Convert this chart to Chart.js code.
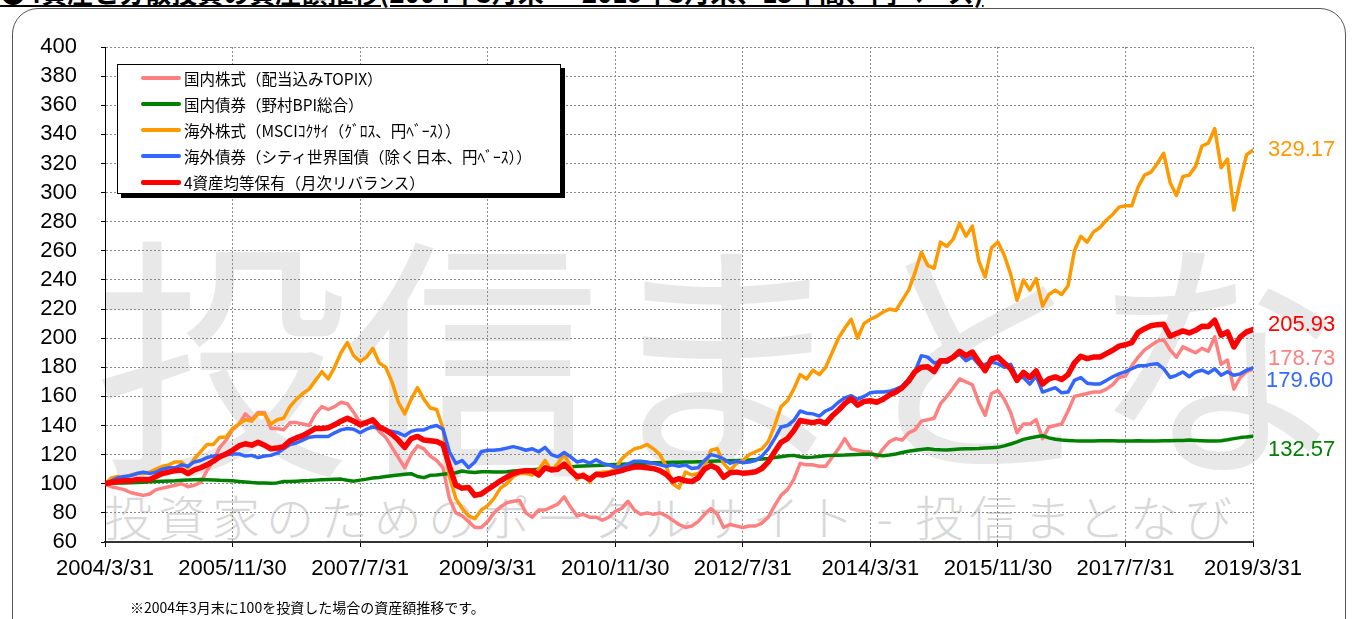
<!DOCTYPE html>
<html><head><meta charset="utf-8">
<script src="https://cdn.jsdelivr.net/npm/chart.js@4.4.1/dist/chart.umd.min.js"></script>
<style>
html,body{margin:0;padding:0;background:#fff;width:1356px;height:619px;overflow:hidden;position:relative;font-family:"Noto Sans CJK JP",sans-serif;}
#frame{position:absolute;left:12px;top:8px;width:1332px;height:650px;border:1.5px solid #555;border-radius:26px;}
#title{position:absolute;left:0;top:-27px;font-size:26px;font-weight:bold;white-space:nowrap;text-decoration:underline;color:#000;}
#wm{position:absolute;left:94px;top:200px;font-size:255px;line-height:290px;color:#e8e8e8;white-space:nowrap;font-family:"Noto Sans CJK JP";letter-spacing:-4px;}
#wm2{position:absolute;left:104px;top:488px;font-size:48px;line-height:54px;color:#d8d8d8;white-space:nowrap;font-family:"Noto Sans CJK JP";font-weight:300;letter-spacing:6px;}
canvas{position:absolute;left:0;top:0;}
#legend{position:absolute;left:117px;top:64px;width:442px;height:128px;border:1px solid #000;background:#fff;box-shadow:4px 4px 0 #000;}
.row{position:absolute;left:0;height:26px;width:100%;}
.sw{position:absolute;left:23px;width:40px;border-radius:2px;}
.lt{position:absolute;left:66px;top:0;font-size:15.5px;line-height:26px;white-space:nowrap;color:#000;}
#note{position:absolute;left:130px;top:598px;font-size:14px;line-height:18px;white-space:nowrap;}
</style></head>
<body>
<div id="title">●4資産と分散投資の資産額推移(2004年3月末 ～ 2019年3月末、15年間、円ベース)</div>
<div id="frame"></div>
<div id="wm">投信まとなび</div>
<div id="wm2">投資家のためのポータルサイト - 投信まとなび</div>
<canvas id="c" width="1356" height="619"></canvas>
<div id="legend"></div>
<div id="note">※2004年3月末に100を投資した場合の資産額推移です。</div>
<script>
const xTickLabels = ['2004/3/31','2005/11/30','2007/7/31','2009/3/31','2010/11/30','2012/7/31','2014/3/31','2015/11/30','2017/7/31','2019/3/31'];
const seriesNames = ['国内株式（配当込みTOPIX）','国内債券（野村BPI総合）','海外株式（MSCIｺｸｻｲ（ｸﾞﾛｽ、円ﾍﾞｰｽ））','海外債券（シティ世界国債（除く日本、円ﾍﾞｰｽ））','4資産均等保有（月次リバランス）'];

const topix = [100,98,97,96,94,93,92,93,96,97,
98,99,100,98,99,101,109,116,125,130,
137,141,148,144,149,149,138,138,137,142,
142,141,140,148,153,151,153,156,155,149,
142,143,142,136,132,125,118,111,120,126,
124,119,116,111,90,80,78,74,70,70,
74,80,84,87,88,88.5,80,77,82,82,
84,86,91,84,78,79,77,77,75,77,
81,83,88,82,79,80,79,80,78,75,
72,70,71,74,79,83,79,70,72,71,
70,71,71,73,77,85,92,96,103,114,
113,113,112,112,118,124,131,124,123,122,
122,118,124,129,131,130,135,137,143,144,
145,155,160,166,172,170,168,156,147,162,
164,158,149,135,141,141,144,131,139,140,
141,150,160,161,162,163,163,165,168,173,
174,181,187,192,195,198,199,192,187,194,
192,190,193,191,201,182,185,165,173,177,
178.73];

const nbpi = [100,100.3,100.5,100.6,100.7,100.9,101.1,101.3,101.5,101.7,
101.9,102.1,102.4,102.6,102.8,103.0,102.8,102.6,102.4,102.3,
102.0,101.6,101.2,100.8,100.5,100.5,100.4,100.6,101.5,101.6,
101.8,102.0,102.2,102.5,102.7,102.9,103.1,103.2,102.4,101.8,
102.5,103.2,104.0,104.3,105.0,105.5,106.0,106.5,106.9,105.0,
104.2,105.8,106.0,106.6,107.0,107.6,108.8,108.0,107.8,108.3,
108.2,108.0,108.0,108.3,108.7,109.0,109.3,109.6,110.0,110.3,
110.6,111.0,111.3,111.6,112.0,112.2,112.4,112.6,112.8,113.0,
113.2,113.4,113.6,113.8,114.0,114.2,114.4,114.5,114.6,114.7,
114.8,114.9,115.0,115.1,115.2,115.4,115.6,115.7,115.8,115.9,
116.0,116.3,116.6,117.0,117.4,118.0,118.6,119.2,119.5,118.6,
118.0,118.3,118.8,119.2,119.5,119.6,119.7,119.9,120.1,120.3,
120.4,119.8,119.3,119.8,120.5,121.5,122.3,123.0,123.6,124.0,
123.6,123.3,123.2,123.5,123.8,124.0,124.0,124.2,124.5,124.8,
125.0,126.0,127.3,128.8,130.5,131.4,132.3,133.0,131.5,130.6,
130.0,129.8,129.5,129.3,129.3,129.4,129.5,129.6,129.5,129.4,
129.3,129.4,129.5,129.4,129.3,129.4,129.5,129.6,129.7,129.8,
130.0,129.8,129.6,129.4,129.3,129.6,130.2,131.0,131.7,132.2,
132.57];

const msci = [100,104,105,104,106,107,107,108,110,112,
113,115,115,111,117,122,127,127,132,132,
138,141,144,143,148,148,141,144,145,153,
158,162,165,171,177,172,180,190,197,188,
184,187,193,183,180,170,156,148,158,166,
158,152,151,138,105,90,83,78,76,82,
85,90,97,100,105,107,107,106,110,116,
109,114,120,112,103,107,101,107,108,108,
110,117,121,124,125,127,124,120,112,100,
97,108,106,107,112,123,124,114,109,114,
116,120,122,124,129,140,153,157,165,175,
172,178,175,180,190,200,207,213,200,210,
213,215,218,220,219,226,233,245,259,250,
248,266,263,268,279,270,277,253,242,262,
266,257,244,226,240,233,241,222,230,233,
230,236,260,270,266,273,276,281,285,290,
291,291,304,312,314,320,327,307,298,311,
312,318,332,334,344,317,323,288,308,326,
329.17];

const wgbi = [100,102,104,105,105.5,107,108,107,108,110,
111,111,113,112,115,116,118,119,119.5,120,
120.5,120.5,119,119.5,118,119,119.5,121,124,127,
128,130,132,132.5,132.5,132.5,135,137,138,137.5,
135,137.5,139,138,137,136,135,133,136,137,
137,139,140,137.5,122,114,116,111,115,122,
123,123,123.5,124.5,125.5,124.5,123,124,122,125,
120,118.5,121.5,118.5,115,116,114,116.5,114,113,
111.5,111.5,113.5,115.5,115.5,115,114,113,112,113,
112,113,110.5,111,116,120,119,117,114,115.5,
114.5,115,116,119,124,131,139,140,143.5,150,
148.5,148,146.5,150,152,156,159,160.5,158,160,
162.5,163,163,163.5,165,167,172,177,188,187,
183,184,183.5,186.5,189,184.5,187,182,182,183.5,
182.5,180,182,173,173,168.5,174,163,164.5,166,
162.5,163,171,173,169,168.5,168.5,171,173.5,175.5,
177,179,181,181,182,182.5,179,173,174.5,176.8,
173.5,176.8,178,176,179,174.5,177,174.5,175.5,178,
179.6];

const balanced = [100,101,101.5,102,102,103,103,103,105,107,
108,109,109.5,107,109.5,111,113,115.5,118.5,120.5,
123,126,127.5,126.5,128.5,126.5,124,124.5,125.5,129.5,
131.5,133,135.5,138,138,138.5,140.5,143,145,143,
140.5,142,144,139,137,134,130,125,131,132.5,
130,129.5,129,127,112,99,97,97.5,92,93,
96,99,102,104.5,107,108.5,109,109,106,111,
109.5,110,113.5,109,105,105.5,103,106.5,106,107,
108,109,110.5,111.5,111.5,111,110.5,109,106.5,102,
103.5,102,101.5,104,110,112.5,110.5,104.5,107.5,108,
107.3,107.6,108.2,110.5,115,122,128.5,131,136.5,143.5,
142.6,142,143,141.5,146.5,150.5,155,158.5,154,156.5,
157,156,158,161,163,166,170.5,177,180,180.4,
177,184.5,184.5,187,191,188,190.5,184,177.7,185.7,
187,183,179,171,176.5,173,177.5,168.5,172,173.4,
171.6,175,183,187.6,186,187,187,189.4,191.7,194.5,
195.5,197,204,206.5,208.5,209.3,209.6,201.3,203.2,205,
203.6,205.4,208.2,208,212.3,202,204.3,194,200.9,204.3,
205.93];

const seriesValues = [topix, nbpi, msci, wgbi, balanced];
const seriesColors = ['#FF8080','#008000','#FF9900','#3366FF','#FF0000'];
const seriesWidths = [3.5,3.5,3.5,3.5,5.5];
const drawOrder = [4,3,2,1,0];
const labelOffsets = [[15,-10],[15,14],[15,0],[13,13],[15,-5]];

// legend
const lg = document.getElementById('legend');
seriesNames.forEach((n,i)=>{
  const r = document.createElement('div'); r.className='row'; r.style.top=(i*26)+'px';
  const sw = document.createElement('span'); sw.className='sw';
  const h = (i===4?5:3.5);
  sw.style.background=seriesColors[i]; sw.style.height=h+'px'; sw.style.top=(13-h/2)+'px';
  const t = document.createElement('span'); t.className='lt'; t.textContent=n;
  r.appendChild(sw); r.appendChild(t); lg.appendChild(r);
});

const endLabels = {
  id:'endLabels',
  afterDatasetsDraw(chart){
    const {ctx, chartArea, scales:{y}} = chart;
    ctx.save();
    ctx.font = '22px "Liberation Sans", Arial, sans-serif';
    ctx.textBaseline='middle'; ctx.textAlign='left';
    seriesValues.forEach((arr,i)=>{
      const last = arr[arr.length-1];
      ctx.fillStyle = seriesColors[i];
      ctx.fillText(last.toFixed(2), chartArea.right + labelOffsets[i][0], y.getPixelForValue(last) + labelOffsets[i][1]);
    });
    ctx.restore();
  }
};

const axisFont = {family:'"Liberation Sans",Arial,sans-serif', size:22};

new Chart(document.getElementById('c'), {
  type:'line',
  data:{datasets: seriesValues.map((arr,i)=>({
    label: seriesNames[i],
    data: arr.map((v,k)=>({x:k,y:v})),
    borderColor: seriesColors[i],
    backgroundColor: seriesColors[i],
    borderWidth: seriesWidths[i],
    order: drawOrder[i],
    pointRadius:0, tension:0, fill:false,
    borderJoinStyle:'round', borderCapStyle:'round'
  }))},
  options:{
    responsive:false, animation:false, devicePixelRatio:1,
    layout:{padding:{left:0,right:103,top:47,bottom:0}},
    plugins:{legend:{display:false}, tooltip:{enabled:false}},
    scales:{
      x:{type:'linear', min:0, max:180,
        afterFit(s){ s.height = 77; },
        ticks:{stepSize:20, autoSkip:false, maxRotation:0, padding:9, color:'#000', font:axisFont,
          callback:(v)=> xTickLabels[Math.round(v/20)]},
        grid:{color:'#8a8a8a', lineWidth:1, tickLength:5, tickColor:'#000', tickWidth:1},
        border:{display:true, color:'#333', width:2, dash:[2,2]}},
      y:{min:60, max:400,
        afterFit(s){ s.width = 105; },
        ticks:{stepSize:20, autoSkip:false, padding:24, color:'#000', font:axisFont},
        grid:{color:'#8a8a8a', lineWidth:1, tickLength:4, tickColor:'#000', tickWidth:1},
        border:{display:true, color:'#000', width:1, dash:[2,2]}}
    }
  },
  plugins:[endLabels]
});
</script>
</body></html>
